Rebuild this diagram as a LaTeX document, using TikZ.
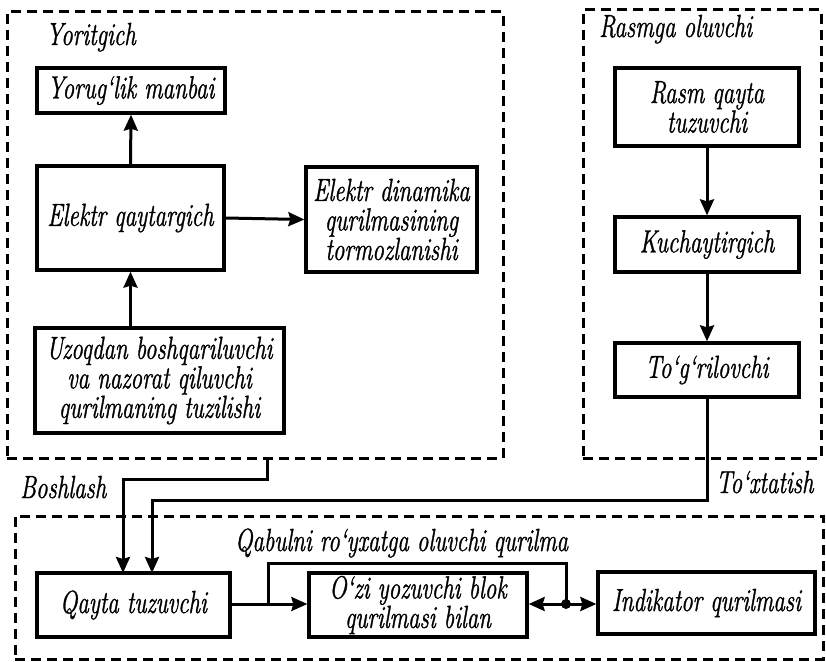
\documentclass[tikz,border=0pt]{standalone}
\usepackage{fontspec}
\setmainfont{Latin Modern Roman}[ItalicFeatures={FakeStretch=0.72, FakeBold=1.0}]
\usetikzlibrary{arrows.meta}
\tikzset{
  blk/.style={draw, line width=3.3pt, inner sep=0pt, align=center, font=\fontsize{32}{29.5}\selectfont\itshape},
  grp/.style={draw, dash pattern=on 10pt off 6pt, line width=3pt, inner sep=0pt},
  lbl/.style={inner sep=0pt, anchor=base west, font=\fontsize{32}{29.5}\selectfont\itshape},
  con/.style={line width=3pt},
  arr/.style={con, -{Stealth[length=16pt,width=14pt,inset=2pt]}},
  darr/.style={con, {Stealth[length=16pt,width=14pt,inset=2pt]}-{Stealth[length=16pt,width=14pt,inset=2pt]}},
}
\begin{document}
\begin{tikzpicture}[x=1pt,y=-1pt]
\useasboundingbox (0,0) rectangle (826,661);
% group frames
\node[grp, minimum width=496pt, minimum height=446pt] (yor) at (255,235) {};
\node[grp, minimum width=238pt, minimum height=448pt] (ras) at (702,234) {};
\node[grp, minimum width=808pt, minimum height=143pt] (qab) at (419,587.5) {};
% labels
\node[lbl] (lyor) at (46,45) {Yoritgich};
\node[lbl] (lras) at (599,37) {Rasmga oluvchi};
\node[lbl] (lbos) at (20,498) {Boshlash};
\node[lbl] (ltox) at (716,493) {To‘xtatish};
\node[lbl] (lqab) at (235,551) {Qabulni ro‘yxatga oluvchi qurilma};
% blocks
\node[blk, minimum width=188pt, minimum height=45pt] (lm) at (131,90.5) {Yorug‘lik manbai};
\node[blk, minimum width=187pt, minimum height=104pt] (eq) at (130.5,218) {Elektr qaytargich};
\node[blk, minimum width=171pt, minimum height=105pt] (ed) at (391.5,219.5) {Elektr dinamika\\qurilmasining\\tormozlanishi};
\node[blk, minimum width=249pt, minimum height=105pt] (uz) at (159.5,380.5) {Uzoqdan boshqariluvchi\\va nazorat qiluvchi\\qurilmaning tuzilishi};
\node[blk, minimum width=184pt, minimum height=78pt] (rq) at (707,107) {Rasm qayta\\tuzuvchi};
\node[blk, minimum width=184pt, minimum height=55pt] (ku) at (707,244.5) {Kuchaytirgich};
\node[blk, minimum width=184pt, minimum height=54pt] (tg) at (707,370) {To‘g‘rilovchi};
\node[blk, minimum width=193pt, minimum height=64pt] (qt) at (133.5,605) {Qayta tuzuvchi};
\node[blk, minimum width=218pt, minimum height=64pt] (oz) at (418,605) {O‘zi yozuvchi blok\\qurilmasi bilan};
\node[blk, minimum width=217pt, minimum height=62pt] (ind) at (706.5,603) {Indikator qurilmasi};
% connectors inside Yoritgich
\draw[arr] (eq.north) -- (lm.south);
\draw[arr] (eq.east) -- (ed.west);
\draw[arr] (eq.south |- uz.north) -- (eq.south);
% Rasmga oluvchi chain
\draw[arr] (rq.south) -- (ku.north);
\draw[arr] (ku.south) -- (tg.north);
% Boshlash
\coordinate (ys) at (267,458);
\coordinate (qa) at (123,573);
\draw[arr] (ys) -- (267,479) -| (qa);
% To'xtatish
\coordinate (qb) at (152,573);
\draw[arr] (tg.south) -- (tg.south |- 0,500) -| (qb);
% bottom group
\coordinate (br) at (268,604);
\coordinate (dt) at (566,604);
\draw[arr] (qt.east |- br) -- (oz.west |- br);
\draw[con] (br) -- (268,563) -| (dt);
\draw[darr] (oz.east |- dt) -- (ind.west |- dt);
\fill (dt) circle (5pt);
\end{tikzpicture}
\end{document}
